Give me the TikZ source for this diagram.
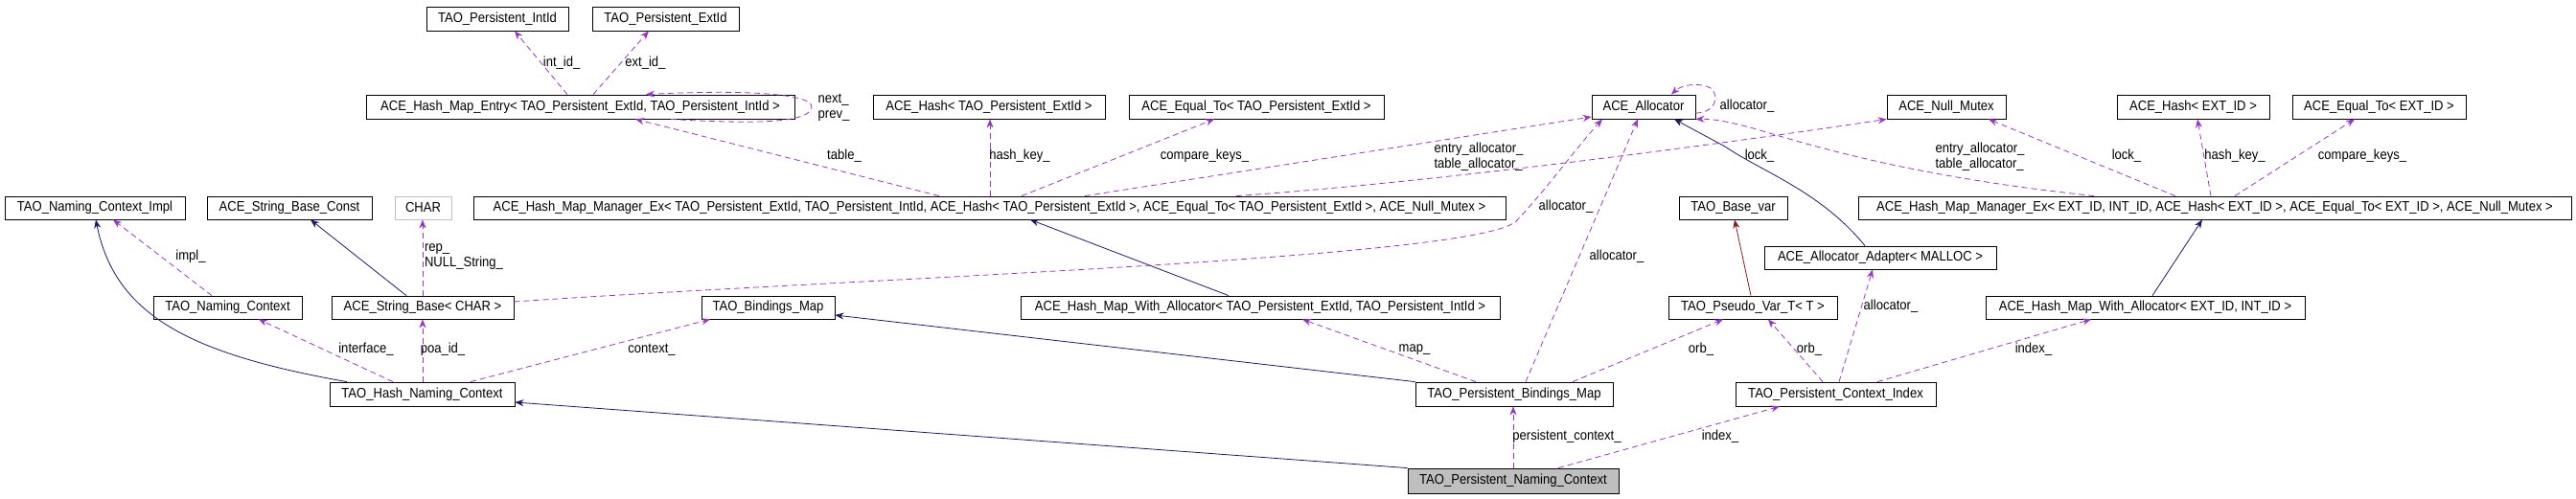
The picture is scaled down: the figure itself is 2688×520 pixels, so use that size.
\documentclass[tikz,border=0pt]{standalone}
\usepackage{fontspec}
\setmainfont{Liberation Sans}[FakeStretch=0.9]
\usetikzlibrary{arrows.meta}
\definecolor{pur}{HTML}{9A32CD}
\definecolor{nav}{HTML}{191970}
\definecolor{dred}{HTML}{8B1A1A}
\newcommand\bx[7][]{\node[box,#1,minimum width={#5pt-#3pt},minimum height={#6pt-#4pt}] (#2) at ({(#3+#5)/2},{(#4+#6)/2}) {#7};}
\begin{document}
\begin{tikzpicture}[x=1pt,y=-1pt,
 every node/.style={font=\fontsize{14.5}{16}\selectfont},
 box/.style={draw=black,line width=0.8pt,inner sep=0pt,fill=white},
 lab/.style={inner sep=0pt,align=left},
 use/.style={draw=pur,line width=0.8pt,dash pattern=on 6pt off 4pt,-{Stealth[length=9pt,width=7pt]}},
 inh/.style={draw=nav,line width=0.8pt,-{Stealth[length=9pt,width=7pt]}},
 tin/.style={draw=dred,line width=0.8pt,-{Stealth[length=9pt,width=7pt]}}]
\useasboundingbox (0,0) rectangle (2688,520);
% boxes
\bx{iid}{445}{7}{593}{32}{TAO\_Persistent\_IntId}
\bx{eid}{618}{7}{771}{32}{TAO\_Persistent\_ExtId}
\bx{ent}{382}{99}{829}{124}{ACE\_Hash\_Map\_Entry< TAO\_Persistent\_ExtId, TAO\_Persistent\_IntId >}
\bx{hsh}{911}{99}{1153}{124}{ACE\_Hash< TAO\_Persistent\_ExtId >}
\bx{eqt}{1178}{99}{1444}{124}{ACE\_Equal\_To< TAO\_Persistent\_ExtId >}
\bx{alc}{1661}{99}{1769}{124}{ACE\_Allocator}
\bx{nmx}{1969}{99}{2093}{124}{ACE\_Null\_Mutex}
\bx{hshe}{2209}{99}{2368}{124}{ACE\_Hash< EXT\_ID >}
\bx{eqte}{2392}{99}{2573}{124}{ACE\_Equal\_To< EXT\_ID >}
\bx{impl}{5}{205}{193}{229}{TAO\_Naming\_Context\_Impl}
\bx{sbc}{216}{205}{388}{229}{ACE\_String\_Base\_Const}
\bx[draw=black!25]{chr}{412}{205}{471}{229}{CHAR}
\bx{mgr}{494}{205}{1571}{229}{ACE\_Hash\_Map\_Manager\_Ex< TAO\_Persistent\_ExtId, TAO\_Persistent\_IntId, ACE\_Hash< TAO\_Persistent\_ExtId >, ACE\_Equal\_To< TAO\_Persistent\_ExtId >, ACE\_Null\_Mutex >}
\bx{bvar}{1752}{205}{1865}{229}{TAO\_Base\_var}
\bx{mgre}{1939}{205}{2683}{229}{ACE\_Hash\_Map\_Manager\_Ex< EXT\_ID, INT\_ID, ACE\_Hash< EXT\_ID >, ACE\_Equal\_To< EXT\_ID >, ACE\_Null\_Mutex >}
\bx{ada}{1841}{257}{2083}{281}{ACE\_Allocator\_Adapter< MALLOC >}
\bx{nc}{160}{309}{315}{333}{TAO\_Naming\_Context}
\bx{sb}{346}{309}{536}{333}{ACE\_String\_Base< CHAR >}
\bx{bm}{732}{309}{871}{333}{TAO\_Bindings\_Map}
\bx{hmw}{1065}{309}{1565}{333}{ACE\_Hash\_Map\_With\_Allocator< TAO\_Persistent\_ExtId, TAO\_Persistent\_IntId >}
\bx{psv}{1741}{309}{1917}{333}{TAO\_Pseudo\_Var\_T< T >}
\bx{hmwe}{2072}{309}{2405}{333}{ACE\_Hash\_Map\_With\_Allocator< EXT\_ID, INT\_ID >}
\bx{hnc}{344}{399}{537}{424}{TAO\_Hash\_Naming\_Context}
\bx{pbm}{1477}{399}{1683}{424}{TAO\_Persistent\_Bindings\_Map}
\bx{pci}{1811}{399}{2020}{424}{TAO\_Persistent\_Context\_Index}
\bx[fill=black!25]{pnc}{1469}{489}{1689}{515}{TAO\_Persistent\_Naming\_Context}
% inheritance
\draw[inh] (sb.north -| 424,0) -- (sbc.south -| 324,0);
\draw[inh] (hnc.north -| 362,0) .. controls (200,370) and (120,330) .. (impl.south -| 100,0);
\draw[inh] (hmw.north -| 1282,0) -- (mgr.south -| 1075,0);
\draw[inh] (hmwe.north -| 2246,0) -- (mgre.south -| 2298,0);
\draw[inh] (pbm.north west) -- (bm.east |- 0,329);
\draw[inh] (pnc.north west) -- (hnc.east |- 0,420);
\draw[inh] (ada.north -| 1946,0) .. controls (1900,200) and (1840,180) .. (1800,153) -- (alc.south -| 1747,0);
\draw[tin] (psv.north -| 1827,0) -- (bvar.south -| 1810,0);
% usage
\draw[use] (ent.north -| 592,0) -- node[lab,pos=.5,right=2pt]{int\_id\_} (iid.south -| 537,0);
\draw[use] (ent.north -| 619,0) -- node[lab,pos=.5,right=4pt]{ext\_id\_} (eid.south -| 677,0);
\draw[use] (ent.south -| 700,0) .. controls (790,130) and (845,128) .. (847,112) .. controls (849,96) and (760,94) .. (ent.north -| 674,0);
\node[lab] (lnp) at (870,112) {next\_\\prev\_};
\draw[use] (mgr.north -| 980,0) -- (ent.south -| 663,0);
\node[lab] (l4) at (881,163) {table\_};
\draw[use] (mgr.north -| 1033,0) -- (hsh.south -| 1033,0);
\node[lab] (l5) at (1064,163) {hash\_key\_};
\draw[use] (mgr.north -| 1066,0) -- (eqt.south -| 1267,0);
\node[lab] (l6) at (1257,163) {compare\_keys\_};
\draw[use] (mgr.north -| 1132,0) -- (alc.west |- 0,122);
\node[lab] (l7) at (1543,164) {entry\_allocator\_\\table\_allocator\_};
\draw[use] (mgr.north -| 1290,0) .. controls (1500,190) and (1800,150) .. (nmx.south west);
\node[lab] (l8) at (1836,163) {lock\_};
\draw[use] (sb.east |- 0,315) .. controls (900,290) and (1550,270) .. (1583,230) .. controls (1620,190) and (1640,160) .. (alc.south -| 1672,0);
\node[lab] (l9) at (1634,216) {allocator\_};
\draw[use] (alc.east |- 0,118) .. controls (1790,118) and (1795,100) .. (1785,92) .. controls (1775,86) and (1755,88) .. (alc.north -| 1744,0);
\node[lab] (l10) at (1823,111) {allocator\_};
\draw[use] (mgre.north -| 2185,0) .. controls (2050,190) and (1950,170) .. (1850,140) .. controls (1810,128) and (1790,124) .. (alc.south east);
\node[lab] (l11) at (2066,164) {entry\_allocator\_\\table\_allocator\_};
\draw[use] (mgre.north -| 2270,0) -- (nmx.south -| 2075,0);
\node[lab] (l12) at (2219,163) {lock\_};
\draw[use] (mgre.north -| 2307,0) -- (hshe.south -| 2293,0);
\node[lab] (l13) at (2332,163) {hash\_key\_};
\draw[use] (mgre.north -| 2332,0) -- (eqte.south -| 2457,0);
\node[lab] (l14) at (2465,163) {compare\_keys\_};
\draw[use] (sb.north -| 441,0) -- (chr.south -| 441,0);
\node[lab] (l20) at (484,268) {rep\_\\NULL\_String\_};
\draw[use] (nc.north -| 221,0) -- (impl.south -| 118,0);
\node[lab] (l21) at (199,268) {impl\_};
\draw[use] (hnc.north -| 410,0) -- (nc.south -| 270,0);
\node[lab] (l23) at (382,365) {interface\_};
\draw[use] (hnc.north -| 441,0) -- (sb.south -| 441,0);
\node[lab] (l24) at (462,365) {poa\_id\_};
\draw[use] (hnc.north -| 491,0) -- (bm.south -| 741,0);
\node[lab] (l25) at (680,365) {context\_};
\draw[use] (pnc.north -| 1579,0) -- (pbm.south -| 1579,0);
\node[lab] (l28) at (1635,456) {persistent\_context\_};
\draw[use] (pnc.north -| 1626,0) -- (pci.south -| 1857,0);
\node[lab] (l29) at (1795,456) {index\_};
\draw[use] (pbm.north -| 1540,0) -- (hmw.south -| 1359,0);
\node[lab] (l30) at (1476,365) {map\_};
\draw[use] (pbm.north -| 1592,0) -- (alc.south -| 1709,0);
\node[lab] (l31) at (1687,268) {allocator\_};
\draw[use] (pbm.north -| 1641,0) -- (psv.south -| 1798,0);
\node[lab] (l32) at (1775,365) {orb\_};
\draw[use] (pci.north -| 1902,0) -- (psv.south -| 1845,0);
\node[lab] (l33) at (1888,365) {orb\_};
\draw[use] (pci.north -| 1919,0) -- (ada.south -| 1954,0);
\node[lab] (l34) at (1973,320) {allocator\_};
\draw[use] (pci.north -| 1959,0) -- (hmwe.south -| 2182,0);
\node[lab] (l35) at (2122,365) {index\_};
\end{tikzpicture}
\end{document}
